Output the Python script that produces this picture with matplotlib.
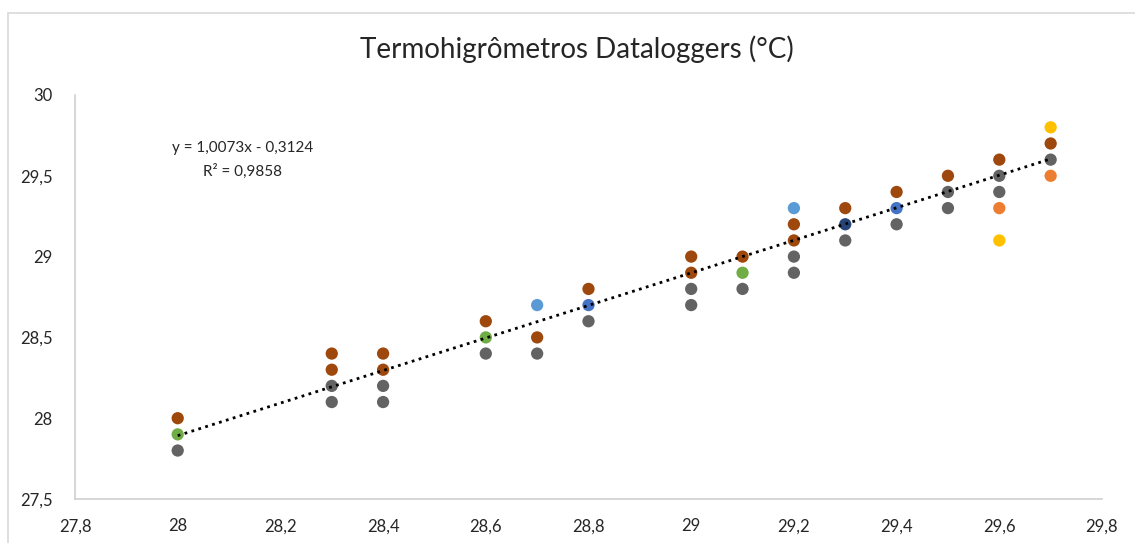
import matplotlib.pyplot as plt
from matplotlib.patches import Rectangle

plt.rcParams['font.family'] = ['Lato', 'DejaVu Sans']

# pontos agrupados por cor (x, y)
marrom_x = [28.0, 28.3, 28.3, 28.4, 28.4, 28.6, 28.7, 28.8, 29.0, 29.0, 29.1,
            29.2, 29.2, 29.3, 29.4, 29.5, 29.6, 29.7]
marrom_y = [28.0, 28.4, 28.3, 28.4, 28.3, 28.6, 28.5, 28.8, 29.0, 28.9, 29.0,
            29.2, 29.1, 29.3, 29.4, 29.5, 29.6, 29.7]
cinza_x = [28.0, 28.3, 28.3, 28.4, 28.4, 28.6, 28.7, 28.8, 29.0, 29.0, 29.1,
           29.2, 29.2, 29.3, 29.4, 29.5, 29.5, 29.6, 29.6, 29.7]
cinza_y = [27.8, 28.2, 28.1, 28.2, 28.1, 28.4, 28.4, 28.6, 28.8, 28.7, 28.8,
           29.0, 28.9, 29.1, 29.2, 29.4, 29.3, 29.5, 29.4, 29.6]
verde_x = [28.0, 28.6, 29.1]
verde_y = [27.9, 28.5, 28.9]
azul_claro_x = [28.7, 29.2]
azul_claro_y = [28.7, 29.3]
azul_x = [28.8, 29.4]
azul_y = [28.7, 29.3]
azul_escuro_x = [29.3]
azul_escuro_y = [29.2]
laranja_x = [29.6, 29.7]
laranja_y = [29.3, 29.5]
dourado_x = [29.6, 29.7]
dourado_y = [29.1, 29.8]

# linha de tendencia (Excel)
a, b = 1.0073, -0.3124
r2 = 0.9858
tend_x = [28.0, 29.7]

fig = plt.figure(figsize=(11.35, 5.43), dpi=100)
ax = fig.add_axes([75/1135, 1-499/543, (1102-75)/1135, (499-95)/543])

series = [
    (cinza_x, cinza_y, '#636363'),
    (marrom_x, marrom_y, '#9E480E'),
    (verde_x, verde_y, '#70AD47'),
    (azul_claro_x, azul_claro_y, '#5B9BD5'),
    (azul_x, azul_y, '#4472C4'),
    (azul_escuro_x, azul_escuro_y, '#264478'),
    (laranja_x, laranja_y, '#ED7D31'),
    (dourado_x, dourado_y, '#FFC000'),
]
for xs, ys, c in series:
    ax.scatter(xs, ys, s=78, color=c, edgecolors='none', zorder=3)

ax.plot(tend_x, [a*x + b for x in tend_x], color='black', lw=2,
        linestyle=(0, (1, 1.6)), zorder=4)

ax.text(28.127, 29.60, 'y = 1,0073x - 0,3124\nR² = 0,9858', ha='center',
        va='center', fontsize=11, color='#262626', linespacing=1.75)

ax.set_xlim(27.8, 29.8)
ax.set_ylim(27.5, 30)
ax.set_xticks([27.8 + 0.2*i for i in range(11)])
ax.set_yticks([27.5, 28, 28.5, 29, 29.5, 30])
ax.set_xticklabels(['27,8', '28', '28,2', '28,4', '28,6', '28,8', '29',
                    '29,2', '29,4', '29,6', '29,8'])
ax.set_yticklabels(['27,5', '28', '28,5', '29', '29,5', '30'])
ax.tick_params(length=0, labelsize=12, colors='#262626', pad=14)
ax.tick_params(axis='y', pad=16)
for s in ['top', 'right']:
    ax.spines[s].set_visible(False)
for s in ['left', 'bottom']:
    ax.spines[s].set_color('#D0D0D0')
    ax.spines[s].set_linewidth(1.2)

fig.text(577/1135, 1-49/543, 'Termohigrômetros Dataloggers (°C)', ha='center',
         va='center', fontsize=20, color='#262626')

fig.patches.append(Rectangle((8/1135, -0.01), 1.0, 1-13/543+0.01,
                             transform=fig.transFigure, fill=False,
                             edgecolor='#D9D9D9', lw=1.2))

fig.savefig('out.png', dpi=100)
